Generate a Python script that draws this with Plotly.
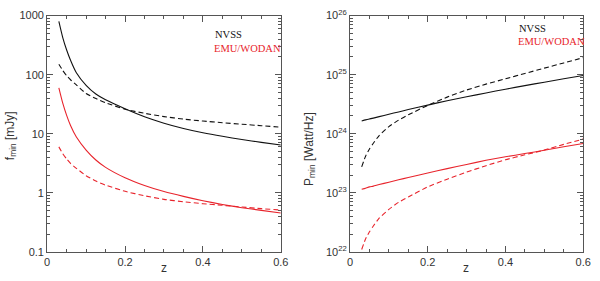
import plotly.graph_objects as go

# ---------------- data ----------------
z = [0.03, 0.04, 0.05, 0.06, 0.075, 0.1, 0.125, 0.15, 0.2, 0.25, 0.3, 0.35, 0.4, 0.45, 0.5, 0.55, 0.6]

# left panel: f_min [mJy]
f_nvss_solid = [800, 425, 262, 176, 108, 66, 47, 37.5, 26.5, 19.4, 15.1, 12.3, 10.4, 9.05, 8.0, 7.15, 6.45]
f_nvss_dash = [150, 118, 96, 82, 67, 48, 39.5, 33.5, 26, 22.2, 19.5, 17.7, 16.4, 15.4, 14.5, 13.7, 12.9]
f_emu_solid = [60, 33, 20.5, 13.8, 8.8, 5.3, 3.6, 2.7, 1.8, 1.33, 1.05, 0.87, 0.735, 0.635, 0.56, 0.505, 0.455]
f_emu_dash = [6.0, 4.6, 3.75, 3.15, 2.6, 1.95, 1.58, 1.35, 1.06, 0.89, 0.775, 0.705, 0.655, 0.615, 0.575, 0.54, 0.51]

# right panel: P_min [Watt/Hz]
p_nvss_solid = [1.65e24, 1.72e24, 1.78e24, 1.84e24, 1.95e24, 2.14e24, 2.34e24, 2.57e24, 3.05e24, 3.63e24,
                4.22e24, 4.90e24, 5.68e24, 6.53e24, 7.46e24, 8.51e24, 9.70e24]
p_nvss_dash = [2.75e23, 4.17e23, 5.50e23, 6.92e23, 9.33e23, 1.32e24, 1.70e24, 2.09e24, 3.02e24, 4.17e24,
               5.50e24, 6.92e24, 8.51e24, 1.05e25, 1.29e25, 1.58e25, 1.94e25]
p_emu_solid = [1.15e23, 1.20e23, 1.26e23, 1.30e23, 1.38e23, 1.51e23, 1.66e23, 1.82e23, 2.16e23, 2.57e23,
               3.02e23, 3.55e23, 4.07e23, 4.62e23, 5.25e23, 6.03e23, 6.82e23]
p_emu_dash = [1.10e22, 1.66e22, 2.19e22, 2.75e22, 3.72e22, 5.25e22, 6.92e22, 8.51e22, 1.26e23, 1.70e23,
              2.24e23, 2.88e23, 3.63e23, 4.40e23, 5.30e23, 6.61e23, 8.13e23]

x_tickvals = [0, 0.2, 0.4, 0.6]
x_ticktext = ["0", "0.2", "0.4", "0.6"]
f_tickvals = [0.1, 1, 10, 100, 1000]
f_ticktext = ["0.1", "1", "10", "100", "1000"]
p_tickvals = [1e22, 1e23, 1e24, 1e25, 1e26]
p_ticktext = ["10<sup>22</sup>", "10<sup>23</sup>", "10<sup>24</sup>", "10<sup>25</sup>", "10<sup>26</sup>"]

legend_labels = ["NVSS", "EMU/WODAN"]

# ---------------- styling ----------------
W, H = 600, 281
BLACK = "#111111"
RED = "#e8242c"
AXC = "#555555"
TXT = "#333333"
DASH = "5px,3px"


def px(x):
    return x / W


def py(y):
    return 1 - y / H


fig = go.Figure()

series = [
    ("x", "y", f_nvss_solid, BLACK, "solid"),
    ("x", "y", f_nvss_dash, BLACK, DASH),
    ("x", "y", f_emu_solid, RED, "solid"),
    ("x", "y", f_emu_dash, RED, DASH),
    ("x2", "y2", p_nvss_solid, BLACK, "solid"),
    ("x2", "y2", p_nvss_dash, BLACK, DASH),
    ("x2", "y2", p_emu_solid, RED, "solid"),
    ("x2", "y2", p_emu_dash, RED, DASH),
]
for xa, ya, vals, col, dash in series:
    fig.add_trace(go.Scatter(x=z, y=vals, xaxis=xa, yaxis=ya, mode="lines",
                             line=dict(color=col, width=1.1, dash=dash, shape="spline", smoothing=0.5),
                             showlegend=False, hoverinfo="skip"))

tickfont = dict(family="Liberation Sans, Arial, sans-serif", size=11, color=TXT)

common_x = dict(range=[0, 0.6], tickmode="array", tickvals=x_tickvals, ticktext=x_ticktext,
                ticks="inside", ticklen=6, tickcolor=AXC, showline=True, linecolor=AXC, linewidth=1,
                mirror="ticks", showgrid=False, zeroline=False, tickfont=tickfont,
                ticklabeloverflow="allow",
                minor=dict(ticks="inside", ticklen=3, tickcolor=AXC, dtick=0.05, tick0=0, showgrid=False))

common_y = dict(type="log", ticks="inside", ticklen=6, tickcolor=AXC, showline=True, linecolor=AXC,
                linewidth=1, mirror="ticks", showgrid=False, zeroline=False, tickfont=tickfont,
                tickmode="array", ticklabeloverflow="allow",
                minor=dict(ticks="inside", ticklen=3, tickcolor=AXC, dtick="D1", showgrid=False))

yb, yt = py(256.7), py(8)

fig.update_layout(
    width=W, height=H, margin=dict(l=0, r=0, t=0, b=0),
    paper_bgcolor="white", plot_bgcolor="white",
    xaxis=dict(common_x, domain=[px(45), px(283)], anchor="y"),
    yaxis=dict(common_y, domain=[yb, yt], range=[-1, 3], tickvals=f_tickvals, ticktext=f_ticktext, anchor="x"),
    xaxis2=dict(common_x, domain=[px(353.5), px(591)], anchor="y2"),
    yaxis2=dict(common_y, domain=[yb, yt], range=[22, 26], tickvals=p_tickvals, ticktext=p_ticktext, anchor="x2"),
)

lab_font = dict(family="Liberation Sans, Arial, sans-serif", size=12, color=TXT)
leg_font = dict(family="Liberation Serif, Times New Roman, serif", size=10.5)

annots = [
    dict(text="z", x=px(164), y=py(274), font=lab_font),
    dict(text="z", x=px(472), y=py(274), font=lab_font),
    dict(text="f<sub>min</sub> [mJy]", x=px(8), y=py(134), font=lab_font, textangle=-90),
    dict(text="P<sub>min</sub> [Watt/Hz]", x=px(312), y=py(148), font=lab_font, textangle=-90),
]
for a in annots:
    fig.add_annotation(xref="paper", yref="paper", showarrow=False, xanchor="center", yanchor="middle", **a)

leg_pos = [((214, 28), (213, 43)), ((524, 22), (523, 35))]
for (p1, p2) in leg_pos:
    fig.add_annotation(xref="paper", yref="paper", showarrow=False, xanchor="left", yanchor="middle",
                       x=px(p1[0]), y=py(p1[1]), text=legend_labels[0], font=dict(leg_font, color=BLACK))
    fig.add_annotation(xref="paper", yref="paper", showarrow=False, xanchor="left", yanchor="middle",
                       x=px(p2[0]), y=py(p2[1]), text=legend_labels[1], font=dict(leg_font, color=RED))

fig.write_html("out.html", config={"displayModeBar": False},
               post_script="document.body.style.margin='0px';document.body.style.overflow='hidden';")
